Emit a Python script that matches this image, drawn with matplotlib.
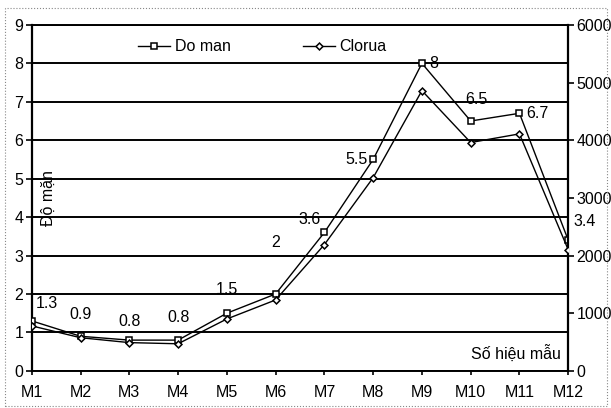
import matplotlib.pyplot as plt
from matplotlib.patches import Rectangle

plt.rcParams['font.family'] = ['Liberation Sans', 'DejaVu Sans']

samples = ['M1', 'M2', 'M3', 'M4', 'M5', 'M6', 'M7', 'M8', 'M9', 'M10', 'M11', 'M12']
do_man = [1.3, 0.9, 0.8, 0.8, 1.5, 2, 3.6, 5.5, 8, 6.5, 6.7, 3.4]
clorua = [780, 575, 490, 470, 900, 1230, 2190, 3350, 4860, 3960, 4110, 2100]
left_ticks = list(range(0, 10))
right_ticks = [0, 1000, 2000, 3000, 4000, 5000, 6000]

fig = plt.figure(figsize=(6.11, 4.08), dpi=100)
ax = fig.add_axes([0.052, 0.091, 0.878, 0.848])
ax2 = ax.twinx()

x = list(range(len(samples)))
l1, = ax.plot(x, do_man, color='black', lw=1.0, marker='s', ms=4,
              mfc='white', mec='black', mew=1.1, label='Do man', zorder=5)
l2, = ax2.plot(x, clorua, color='black', lw=1.0, marker='D', ms=3.5,
               mfc='white', mec='black', mew=1.1, label='Clorua', zorder=5)

ax.set_xlim(0, 11)
ax.set_ylim(0, 9)
ax2.set_ylim(0, 6000)
ax.set_yticks(left_ticks)
ax2.set_yticks(right_ticks)
ax.set_xticks(x)
ax.set_xticklabels(samples)
ax.grid(axis='y', color='black', lw=1.4)
ax.set_axisbelow(True)

for a in (ax, ax2):
    a.tick_params(labelsize=11.5, length=4, width=1.2, color='black', pad=2)
    for s in a.spines.values():
        s.set_visible(False)
ax.spines['left'].set_visible(True)
ax.spines['left'].set_linewidth(1.6)
ax.spines['top'].set_visible(True)
ax.spines['top'].set_linewidth(1.4)
ax.spines['bottom'].set_visible(True)
ax.spines['bottom'].set_linewidth(1.4)
ax2.spines['right'].set_visible(True)
ax2.spines['right'].set_linewidth(1.6)
ax.tick_params(axis='x', length=3, pad=7)

# data labels for Do man
offsets = [(3, 7, 'left'), (0, 10, 'center'), (0, 8, 'center'), (0, 11, 'center'),
           (0, 12, 'center'), (0, 32, 'center'), (-3, 4, 'right'), (-4, 0, 'right'),
           (5, 0, 'left'), (4, 10, 'center'), (5, 0, 'left'), (4, 8, 'left')]
for xi, v, (dx, dy, ha) in zip(x, do_man, offsets):
    ax.annotate(f'{v:g}', (xi, v), xytext=(dx, dy), textcoords='offset points',
                ha=ha, va='bottom' if dy > 0 else 'center', fontsize=11.5, zorder=6)

ax.text(0.33, 4.5, 'Độ mặn', rotation=90, fontsize=11.5, ha='center', va='center')
ax.text(10.85, 0.45, 'Số hiệu mẫu', fontsize=11.5, ha='right', va='center')

ax.legend([l1, l2], ['Do man', 'Clorua'], loc='upper center', ncol=2,
          bbox_to_anchor=(0.43, 1.0), frameon=False, fontsize=11.5,
          handlelength=2.0, columnspacing=4.5, handletextpad=0.3)

fig.patches.append(Rectangle((0.008, 0.005), 0.985, 0.975, transform=fig.transFigure,
                             fill=False, ls=':', lw=0.8, ec='#888888'))

fig.savefig('out.png', dpi=100)
